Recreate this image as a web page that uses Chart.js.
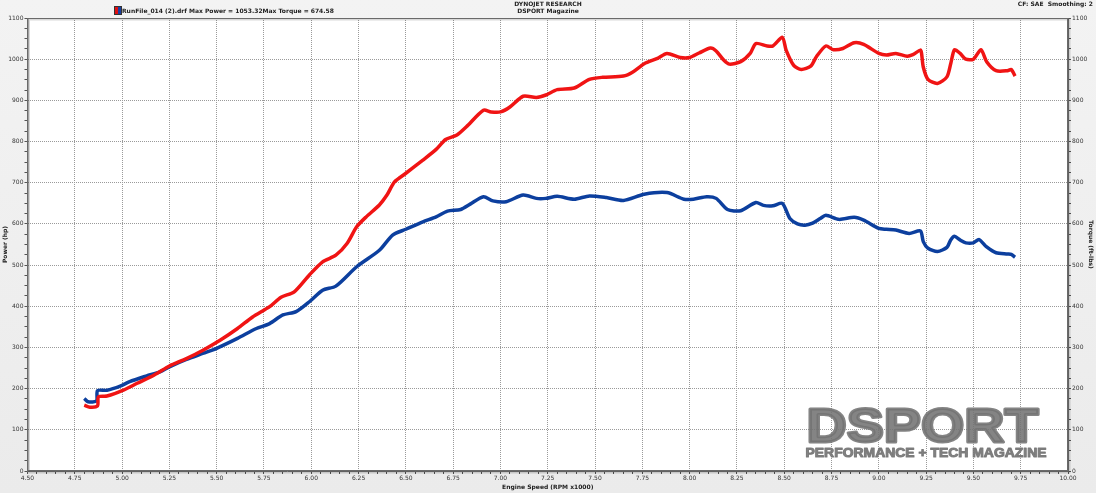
<!DOCTYPE html>
<html>
<head>
<meta charset="utf-8">
<script src="https://cdn.jsdelivr.net/npm/chart.js@4.4.1/dist/chart.umd.min.js"></script>
<style>
  html, body { margin: 0; padding: 0; background: #efefef; }
  #wrap { position: relative; width: 1096px; height: 493px; }
</style>
</head>
<body>
<div id="wrap"><canvas id="dyno" width="1096" height="493"></canvas></div>
<script>
// engine speed (x1000 rpm) and power (hp)
const powerRpm = [4.80, 4.83, 4.87, 4.875, 4.92, 5.01, 5.08, 5.17, 5.25, 5.34, 5.43, 5.52, 5.61, 5.69, 5.78, 5.84, 5.91, 5.99, 6.06, 6.13,
    6.19, 6.24, 6.29, 6.36, 6.40, 6.44, 6.50, 6.59, 6.66, 6.71, 6.77, 6.82, 6.91, 6.95, 7.00, 7.05, 7.12, 7.19, 7.24, 7.30,
    7.39, 7.47, 7.54, 7.65, 7.70, 7.76, 7.83, 7.88, 7.95, 8.00, 8.05, 8.11, 8.14, 8.18, 8.21, 8.27, 8.32, 8.35, 8.41, 8.44,
    8.49, 8.51, 8.55, 8.59, 8.64, 8.67, 8.72, 8.76, 8.81, 8.87, 8.92, 9.00, 9.04, 9.09, 9.15, 9.18, 9.22, 9.226, 9.235, 9.26,
    9.31, 9.36, 9.38, 9.40, 9.43, 9.46, 9.50, 9.54, 9.57, 9.62, 9.68, 9.70, 9.72];
const powerHp = [160, 155, 158, 180, 182, 197, 213, 233, 255, 273, 294, 318, 346, 374, 399, 422, 435, 476, 508, 524,
    553, 593, 617, 646, 670, 702, 723, 755, 781, 805, 816, 836, 876, 872, 872, 884, 910, 907, 913, 926,
    930, 951, 956, 959, 969, 989, 1002, 1014, 1004, 1004, 1015, 1027, 1020, 998, 988, 994, 1014, 1038, 1032, 1032,
    1053, 1022, 985, 975, 983, 1006, 1032, 1023, 1026, 1040, 1036, 1014, 1010, 1014, 1007, 1011, 1022, 1014, 981, 951,
    941, 957, 989, 1023, 1014, 1000, 1000, 1023, 994, 972, 972, 975, 959];

// engine speed (x1000 rpm) and torque (ft-lbs)
const torqueRpm = [4.80, 4.82, 4.865, 4.87, 4.92, 4.99, 5.04, 5.13, 5.20, 5.25, 5.34, 5.43, 5.50, 5.61, 5.71, 5.78, 5.85, 5.92, 5.99, 6.06,
    6.13, 6.24, 6.36, 6.43, 6.50, 6.59, 6.66, 6.72, 6.79, 6.84, 6.91, 6.96, 7.03, 7.12, 7.19, 7.24, 7.30, 7.39, 7.47, 7.56,
    7.65, 7.76, 7.88, 7.97, 8.02, 8.09, 8.14, 8.20, 8.27, 8.35, 8.39, 8.44, 8.49, 8.53, 8.57, 8.61, 8.65, 8.69, 8.72, 8.79,
    8.87, 8.92, 9.00, 9.04, 9.09, 9.16, 9.22, 9.235, 9.26, 9.31, 9.36, 9.38, 9.40, 9.43, 9.46, 9.50, 9.53, 9.57, 9.62, 9.68,
    9.70, 9.72];
const torqueLbft = [176, 168, 170, 195, 196, 206, 217, 231, 241, 253, 271, 286, 298, 322, 346, 358, 379, 387, 411, 439,
    449, 496, 536, 573, 587, 605, 617, 631, 635, 648, 666, 656, 654, 670, 662, 662, 667, 660, 668, 664,
    657, 672, 676, 660, 660, 666, 662, 635, 632, 652, 645, 644, 650, 613, 600, 597, 602, 613, 621, 611,
    616, 609, 589, 587, 585, 577, 583, 557, 541, 533, 543, 561, 570, 561, 554, 554, 562, 544, 530, 527,
    526, 519];

// axis ticks: majors get a label and a grid line, the rest are minor marks
const rpmTicks = [];
for (let i = 0; i <= 110; i++) rpmTicks.push((450 + 5 * i) / 100);
const valueTicks = [];
for (let i = 0; i <= 44; i++) valueTicks.push(25 * i);

const headerLeft = 'RunFile_014 (2).drf Max Power = 1053.32Max Torque = 674.58';
const headerMid1 = 'DYNOJET RESEARCH';
const headerMid2 = 'DSPORT Magazine';
const headerRight = 'CF: SAE  Smoothing: 2';

const isMajorRpm = v => Math.round(v * 100) % 25 === 0;
const isMajorVal = v => v % 100 === 0;

// stretch a text to fit a given width, heavy stroke for the logo look
function stretchText(ctx, text, x, y, w, weight) {
    const m = ctx.measureText(text);
    ctx.save();
    ctx.translate(x, y);
    ctx.scale(w / m.width, 1);
    ctx.lineWidth = weight;
    ctx.lineJoin = 'round';
    ctx.strokeText(text, 0, 0);
    ctx.fillText(text, 0, 0);
    ctx.restore();
}

const sheet = {
    id: 'sheet',
    beforeDraw(chart) {
        const { ctx, chartArea: a, width, height } = chart;
        ctx.save();
        const g = ctx.createLinearGradient(0, 0, 0, height);
        g.addColorStop(0, '#f3f3f3');
        g.addColorStop(1, '#ebebeb');
        ctx.fillStyle = g;
        ctx.fillRect(0, 0, width, height);
        ctx.fillStyle = '#ffffff';
        ctx.fillRect(a.left, a.top, a.right - a.left, a.bottom - a.top);
        ctx.restore();
    },
    beforeDatasetsDraw(chart) {
        const ctx = chart.ctx;
        ctx.save();
        ctx.globalAlpha = 0.88;
        ctx.fillStyle = '#737373';
        ctx.strokeStyle = '#737373';
        ctx.textBaseline = 'alphabetic';
        ctx.font = 'bold 48px "Liberation Sans"';
        stretchText(ctx, 'DSPORT', 806.5, 441.5, 232, 3);
        ctx.font = 'bold 13px "Liberation Sans"';
        stretchText(ctx, 'PERFORMANCE + TECH MAGAZINE', 805.5, 456.5, 241, 1);
        ctx.restore();
    },
    afterDraw(chart) {
        const { ctx, chartArea: a } = chart;
        ctx.save();
        // plot frame with a light shadow
        ctx.strokeStyle = 'rgba(0,0,0,0.15)';
        ctx.lineWidth = 2;
        ctx.strokeRect(a.left + 1.5, a.top + 1.5, a.right - a.left, a.bottom - a.top);
        ctx.strokeStyle = '#6a6a6a';
        ctx.lineWidth = 1;
        ctx.strokeRect(a.left + 0.5, a.top + 0.5, a.right - a.left - 1, a.bottom - a.top - 1);

        // header texts
        ctx.fillStyle = '#222';
        ctx.font = 'bold 6px "DejaVu Sans"';
        ctx.textBaseline = 'alphabetic';
        ctx.textAlign = 'center';
        ctx.fillText(headerMid1, 548, 6);
        ctx.fillText(headerMid2, 548, 13);
        ctx.textAlign = 'right';
        ctx.fillText(headerRight, 1093, 6);
        ctx.textAlign = 'left';
        ctx.fillText(headerLeft, 122, 13);

        // run file swatch
        ctx.fillStyle = '#e01010';
        ctx.fillRect(115, 7, 3, 7);
        ctx.fillStyle = '#1a3fa0';
        ctx.fillRect(118, 7, 3, 7);
        ctx.strokeStyle = '#333';
        ctx.strokeRect(114.5, 6.5, 7, 8);
        ctx.restore();
    }
};

const tickFont = { family: 'DejaVu Sans', size: 6 };
const titleFont = { family: 'DejaVu Sans', size: 6, weight: 'bold' };

function valueAxis(position, withGrid, title, width) {
    return {
        type: 'linear',
        position: position,
        min: 0,
        max: 1100,
        afterBuildTicks: s => { s.ticks = valueTicks.map(v => ({ value: v })); },
        afterFit: s => { s.width = width; },
        ticks: {
            autoSkip: false,
            padding: 1,
            color: '#333',
            font: tickFont,
            callback: v => isMajorVal(v) ? String(v) : ''
        },
        grid: {
            drawOnChartArea: withGrid,
            color: c => (c.tick && isMajorVal(c.tick.value)) ? '#9a9a9a' : 'rgba(0,0,0,0)',
            tickColor: '#555',
            tickLength: 3
        },
        border: { display: true, color: '#6a6a6a', dash: [1, 1] },
        title: { display: true, text: title, color: '#222', font: titleFont, padding: { top: 2, bottom: 2 } }
    };
}

new Chart(document.getElementById('dyno'), {
    type: 'line',
    data: {
        datasets: [
            {
                label: 'Power (hp)',
                data: powerRpm.map((r, i) => ({ x: r, y: powerHp[i] })),
                borderColor: '#f01414',
                borderWidth: 3.5,
                pointRadius: 0,
                tension: 0.25,
                yAxisID: 'y'
            },
            {
                label: 'Torque (ft-lbs)',
                data: torqueRpm.map((r, i) => ({ x: r, y: torqueLbft[i] })),
                borderColor: '#0c3f9e',
                borderWidth: 3.5,
                pointRadius: 0,
                tension: 0.25,
                yAxisID: 'y2'
            }
        ]
    },
    options: {
        responsive: false,
        animation: false,
        layout: { padding: { top: 18, left: 0, right: 0, bottom: 0 } },
        plugins: { legend: { display: false }, tooltip: { enabled: false } },
        scales: {
            x: {
                type: 'linear',
                min: 4.5,
                max: 10,
                afterBuildTicks: s => { s.ticks = rpmTicks.map(v => ({ value: v })); },
                afterFit: s => { s.height = 22; },
                ticks: {
                    autoSkip: false,
                    maxRotation: 0,
                    minRotation: 0,
                    padding: 1,
                    color: '#333',
                    font: tickFont,
                    callback: v => isMajorRpm(v) ? v.toFixed(2) : ''
                },
                grid: {
                    color: c => (c.tick && isMajorRpm(c.tick.value)) ? '#9a9a9a' : 'rgba(0,0,0,0)',
                    tickColor: '#555',
                    tickLength: 3
                },
                border: { display: true, color: '#6a6a6a', dash: [1, 1] },
                title: { display: true, text: 'Engine Speed (RPM x1000)', color: '#222', font: titleFont, padding: { top: 2, bottom: 2 } }
            },
            y: valueAxis('left', true, 'Power (hp)', 27.5),
            y2: valueAxis('right', false, 'Torque (ft-lbs)', 28)
        }
    },
    plugins: [sheet]
});
</script>
</body>
</html>
